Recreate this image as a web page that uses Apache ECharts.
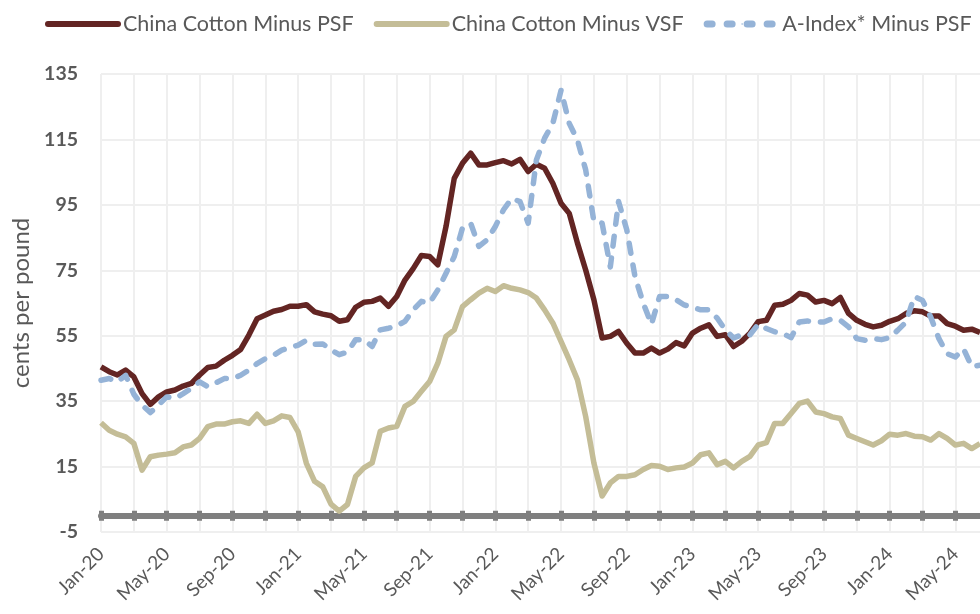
<!DOCTYPE html>
<html>
<head>
<meta charset="utf-8">
<script src="https://cdn.jsdelivr.net/npm/echarts@6/dist/echarts.min.js"></script>
<style>
html,body{margin:0;padding:0;background:#fff;}
#chart{width:980px;height:614px;}
</style>
</head>
<body>
<div id="chart"></div>
<script>
// ---- Data (semi-monthly readings, Jan-20 .. mid Jun-24) ----
const monthNames = ['Jan','Feb','Mar','Apr','May','Jun','Jul','Aug','Sep','Oct','Nov','Dec'];
const years = ['20','21','22','23','24'];
const seriesNames = ['China Cotton Minus PSF','China Cotton Minus VSF','A-Index* Minus PSF'];
const yTickValues = [-5, 15, 35, 55, 75, 95, 115, 135];

const chinaMinusPSF = [
  45.5,44,43,44.5,42.4,37.3,34,36.3,37.8,38.4,
  39.6,40.4,43,45.3,45.7,47.5,49,50.8,55.2,60.2,
  61.3,62.5,63,64,64,64.5,62.3,61.6,61.1,59.4,
  59.9,63.7,65.2,65.5,66.5,64,67,72,75.5,79.5,
  79.2,76.7,88.4,103.1,107.7,110.8,107.2,107.2,107.9,108.5,
  107.5,108.9,105.2,107.4,106.2,101.6,95.5,92.4,83.3,75.1,
  66,54.3,54.8,56.3,52.7,49.7,49.7,51.2,49.7,50.9,
  52.9,51.9,55.8,57.3,58.3,54.8,55.3,51.7,53.3,55.8,
  59.3,59.7,64.3,64.6,65.8,67.9,67.4,65.3,65.8,64.8,
  66.7,61.8,59.7,58.5,57.7,58.2,59.4,60.2,61.8,62.6,
  62.3,61,61,58.7,57.9,56.7,57,56
];
const chinaMinusVSF = [
  28.4,26.1,24.9,24.1,22.1,13.9,18,18.5,18.8,19.2,
  21,21.6,23.6,27.2,28,28,28.7,29,28.2,31,
  28.2,29,30.5,30,25.6,16,10.5,8.8,3.5,1.4,
  3.4,12,14.6,16.1,25.8,26.8,27.3,33.4,34.9,38,
  41,46.6,54.8,56.8,63.9,66,68,69.5,68.5,70.3,
  69.5,69,68.2,66.5,62.9,58.9,53.3,47.6,41.5,30.3,
  16.1,6,10,12,12,12.5,14.1,15.3,15.1,14.1,
  14.6,14.9,16.1,18.6,19.2,15.6,16.6,14.6,16.6,18.1,
  21.6,22.3,28.2,28.2,31.2,34.3,35,31.7,31.2,30.2,
  29.7,24.6,23.6,22.6,21.6,22.9,24.9,24.6,25.1,24.3,
  24.1,23.1,25.1,23.6,21.6,22.1,20.5,22
];
const aIndexMinusPSF = [
  41.4,41.9,40.9,42.9,37.1,33.8,31.5,33.8,36.3,35.8,
  37.3,38.9,40.9,39.4,40.6,41.9,41.9,42.9,44.5,46.5,
  48,49,50.6,51.4,52.1,53.6,52.4,52.5,50.7,49.2,
  50,53.8,53.8,51.7,56.8,57.3,58,59.4,62.9,65.5,
  65,69,74.1,79.2,87.9,89.4,82.3,84.3,88.4,93.5,
  97,96,89.4,108.7,115.4,119.9,130,119.9,114.8,105.7,
  89.9,89.4,76,96,87.4,73.1,65,58.5,67,67,
  66,64.4,63.7,62.9,62.9,60.4,56.8,54.3,55.3,55.3,
  58.5,57.2,56.2,55.7,54.4,59.2,59.5,59.2,59.2,60.2,
  59.7,57.7,54.1,53.6,54.1,53.8,54.4,56.7,59.2,67,
  65.8,60.7,54.1,49.5,48.5,51,45.5,46
];

// categories: 1st and mid of each month
const categories = [];
for (const y of years) {
  for (const m of monthNames) {
    categories.push(m + '-' + y);
    categories.push('mid ' + m + '-' + y);
  }
}
categories.length = chinaMinusPSF.length;

const TEXT = '#595959';
const FONT = 'Lato';
const colors = ['#632523', '#C4BD97', '#95B3D7'];

const chart = echarts.init(document.getElementById('chart'), null, {renderer: 'canvas'});
const stepPx = 8.317;
const option = {
  animation: false,
  textStyle: {fontFamily: FONT},
  legend: {
    left: 40, top: 8, padding: 5, width: 1100,
    itemWidth: 70, itemHeight: 2, itemGap: 20,
    textStyle: {color: TEXT, fontSize: 21.5, fontFamily: FONT},
    lineStyle: {width: 6, cap: 'round'},
    data: [
      {name: seriesNames[0]},
      {name: seriesNames[1]},
      {name: seriesNames[2], lineStyle: {type: [5, 15], cap: 'round', width: 7}}
    ]
  },
  grid: {left: 101, top: 74, height: 458, width: stepPx * (categories.length - 1), containLabel: false},
  xAxis: [
    {
      type: 'category', data: categories, boundaryGap: false, position: 'bottom',
      axisLine: {show: false, onZero: false},
      axisTick: {show: false},
      axisLabel: {interval: 7, rotate: 45, margin: 19, color: TEXT, fontSize: 19, fontFamily: FONT},
      splitLine: {show: true, interval: 3, lineStyle: {color: '#EFEFEF', width: 2}}
    },
    {
      type: 'category', data: categories, boundaryGap: false, position: 'bottom',
      axisLine: {show: true, onZero: true, onZeroAxisIndex: 0, lineStyle: {color: '#7F7F7F', width: 6}},
      axisTick: {show: true, interval: 3, inside: false, length: 5, lineStyle: {color: '#7F7F7F', width: 5}},
      axisLabel: {show: false},
      splitLine: {show: false}
    },
    {
      type: 'category', data: categories, boundaryGap: false, position: 'bottom',
      axisLine: {show: false, onZero: true, onZeroAxisIndex: 0},
      axisTick: {show: true, interval: 3, inside: true, length: 5, lineStyle: {color: '#7F7F7F', width: 5}},
      axisLabel: {show: false},
      splitLine: {show: false}
    }
  ],
  yAxis: {
    type: 'value', min: -5, max: 135, interval: 20,
    name: 'cents per pound', nameLocation: 'middle', nameGap: 64,
    nameTextStyle: {color: TEXT, fontSize: 24, fontFamily: FONT},
    axisLine: {show: false},
    axisTick: {show: false, customValues: yTickValues},
    axisLabel: {color: TEXT, fontSize: 19.5, fontWeight: 'bold', margin: 23, fontFamily: FONT, customValues: yTickValues},
    splitLine: {show: true, lineStyle: {color: '#EFEFEF', width: 2}}
  },
  series: [
    {name: seriesNames[0], type: 'line', data: chinaMinusPSF, xAxisIndex: 0, showSymbol: false, symbol: 'none',
     lineStyle: {color: colors[0], width: 5.5, join: 'round'}, itemStyle: {color: colors[0]}, z: 3},
    {name: seriesNames[1], type: 'line', data: chinaMinusVSF, xAxisIndex: 0, showSymbol: false, symbol: 'none',
     lineStyle: {color: colors[1], width: 5.5, join: 'round'}, itemStyle: {color: colors[1]}, z: 3},
    {name: seriesNames[2], type: 'line', data: aIndexMinusPSF, xAxisIndex: 0, showSymbol: false, symbol: 'none',
     lineStyle: {color: colors[2], width: 5.5, type: [10, 12], cap: 'round', join: 'round'}, itemStyle: {color: colors[2]}, z: 4}
  ]
};
chart.setOption(option);
</script>
</body>
</html>
